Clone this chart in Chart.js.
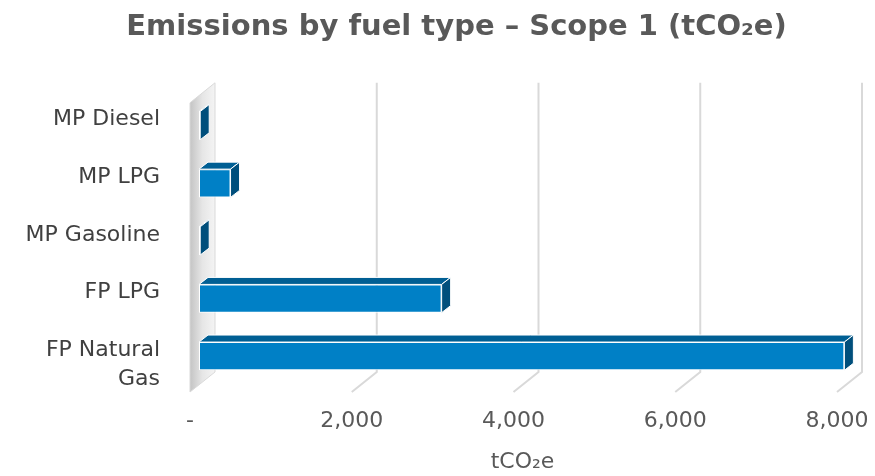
<!DOCTYPE html>
<html>
<head>
<meta charset="utf-8">
<script src="https://cdn.jsdelivr.net/npm/chart.js@4.4.0/dist/chart.umd.min.js"></script>
<style>
html, body { margin: 0; padding: 0; background: #fff; }
</style>
</head>
<body>
<canvas id="myChart" width="875" height="476"></canvas>
<script>
// data
const categories = ['MP Diesel', 'MP LPG', 'MP Gasoline', 'FP LPG', ['', 'FP Natural', 'Gas']];
const emissions = [15, 390, 15, 3000, 7980];
const xMin = 0;
const xMax = 8000;
const xStep = 2000;

const FONT = 'DejaVu Sans';

// fake 3D: bar depth and wall planes, relative to the bar front plane
const barDx = 9, barDy = -7;
const frontDx = -9, frontDy = 7;
const backDx = 16, backDy = -13;

const threeD = {
  id: 'threeD',
  afterLayout(chart) {
    // the original title sits a bit right of the page centre
    if (chart.titleBlock) chart.titleBlock.left = 38;
  },
  beforeDatasetsDraw(chart) {
    const ctx = chart.ctx;
    const a = chart.chartArea;
    const xs = chart.scales.x;
    const floorFront = a.bottom + frontDy;
    const floorBack = a.bottom + backDy;
    const wallTop = a.top + backDy - 1;
    const x0 = xs.getPixelForValue(0);

    ctx.save();
    // left side wall
    const g = ctx.createLinearGradient(x0 + frontDx, 0, x0 + backDx, 0);
    g.addColorStop(0, '#c4c4c4');
    g.addColorStop(0.5, '#e6e6e6');
    g.addColorStop(1, '#f4f4f4');
    ctx.fillStyle = g;
    ctx.beginPath();
    ctx.moveTo(x0 + frontDx, wallTop + (frontDy - backDy));
    ctx.lineTo(x0 + backDx, wallTop);
    ctx.lineTo(x0 + backDx, floorBack);
    ctx.lineTo(x0 + frontDx, floorFront);
    ctx.closePath();
    ctx.fill();
    ctx.strokeStyle = '#d9d9d9';
    ctx.lineWidth = 1;
    ctx.stroke();

    // gridlines on back wall and floor
    ctx.strokeStyle = '#d9d9d9';
    ctx.lineWidth = 2;
    xs.ticks.forEach(t => {
      if (t.value === 0) return;
      const px = xs.getPixelForValue(t.value);
      ctx.beginPath();
      ctx.moveTo(px + backDx, wallTop);
      ctx.lineTo(px + backDx, floorBack);
      ctx.lineTo(px + frontDx, floorFront);
      ctx.stroke();
    });
    ctx.restore();
  },
  afterDatasetsDraw(chart) {
    const ctx = chart.ctx;
    const meta = chart.getDatasetMeta(0);
    ctx.save();
    ctx.strokeStyle = '#ffffff';
    ctx.lineWidth = 1;
    ctx.lineJoin = 'round';
    meta.data.forEach(el => {
      const p = el.getProps(['x', 'y', 'base', 'height'], true);
      const top = p.y - p.height / 2;
      const bottom = p.y + p.height / 2;
      // top face
      ctx.fillStyle = '#005f94';
      ctx.beginPath();
      ctx.moveTo(p.base, top);
      ctx.lineTo(p.base + barDx, top + barDy);
      ctx.lineTo(p.x + barDx, top + barDy);
      ctx.lineTo(p.x, top);
      ctx.closePath();
      ctx.fill();
      ctx.stroke();
      // end face
      ctx.fillStyle = '#004f7c';
      ctx.beginPath();
      ctx.moveTo(p.x, top);
      ctx.lineTo(p.x + barDx, top + barDy);
      ctx.lineTo(p.x + barDx, bottom + barDy);
      ctx.lineTo(p.x, bottom);
      ctx.closePath();
      ctx.fill();
      ctx.stroke();
    });
    ctx.restore();
  }
};

const data = {
  labels: categories,
  datasets: [
    {
      label: 'tCO2e',
      data: emissions,
      backgroundColor: '#0080c6',
      borderColor: '#ffffff',
      borderWidth: 1,
      borderSkipped: false,
      barPercentage: 0.49,
      categoryPercentage: 1,
    }
  ],
};

const config = {
  type: 'bar',
  data: data,
  plugins: [threeD],
  options: {
    indexAxis: 'y',
    responsive: false,
    animation: false,
    layout: {
      padding: { left: 0, right: 0, top: 0, bottom: 0 }
    },
    scales: {
      x: {
        min: xMin,
        max: xMax,
        grid: { display: false, drawTicks: false },
        border: { display: false },
        ticks: {
          stepSize: xStep,
          labelOffset: -9,
          padding: 23,
          color: '#595959',
          font: { family: FONT, size: 22 },
          maxRotation: 0,
          autoSkip: false,
          callback: v => v === 0 ? '-' : v.toLocaleString('en-US'),
        },
        title: {
          display: true,
          text: 'tCO₂e',
          color: '#595959',
          font: { family: FONT, size: 22 },
          padding: { top: 4, bottom: 1 },
        },
        afterFit: s => { s.height = 91; s.paddingLeft = 0; s.paddingRight = 29; },
      },
      y: {
        grid: { display: false, drawTicks: false },
        border: { display: false },
        ticks: {
          labelOffset: -6,
          padding: 39,
          autoSkip: false,
          color: '#404040',
          font: { family: FONT, size: 22, lineHeight: 1.32 },
        },
        afterFit: s => { s.width = 199; s.paddingTop = 0; s.paddingBottom = 0; },
      },
    },
    plugins: {
      legend: { display: false },
      tooltip: { enabled: false },
      title: {
        display: true,
        text: 'Emissions by fuel type – Scope 1 (tCO₂e)',
        color: '#595959',
        font: { family: FONT, size: 29, weight: 'bold' },
        padding: { top: 10, bottom: 52 },
      }
    }
  },
};

const ctx = document.getElementById('myChart');
const myChart = new Chart(ctx, config);
</script>
</body>
</html>
